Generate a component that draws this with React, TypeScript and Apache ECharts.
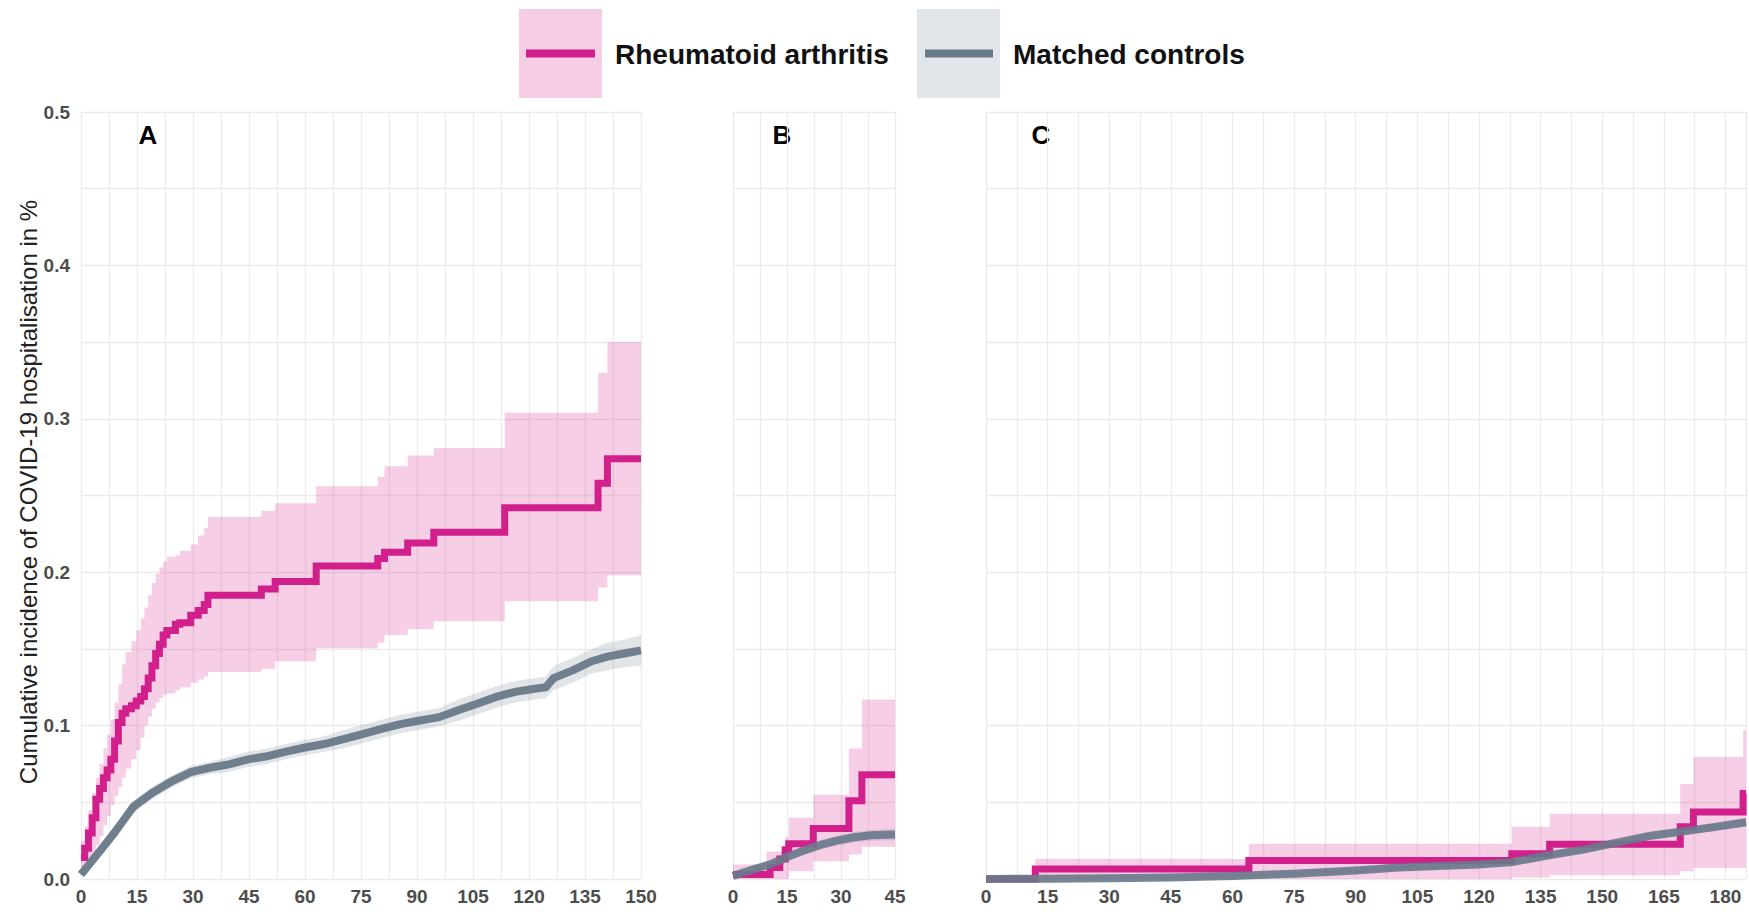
import React, { useEffect, useRef } from "react";
import * as echarts from "echarts";

// ---------- Data ----------
// Panel A – Rheumatoid arthritis (step estimates with CI)
const raA_t = [0, 1, 2, 3, 4, 5, 6, 7, 8, 9, 10, 11, 12, 13.5, 14.8, 16, 17, 18, 19, 20, 21, 22, 23, 25.3, 26.5, 29.4, 31.4, 33, 34, 48.3, 52, 63, 79.5, 81.3, 87.5, 94.5, 113.5, 138.5, 141, 150];
const raA_est = [0.014, 0.02, 0.03, 0.04, 0.052, 0.059, 0.066, 0.071, 0.078, 0.09, 0.102, 0.108, 0.111, 0.113, 0.116, 0.119, 0.124, 0.131, 0.139, 0.147, 0.153, 0.159, 0.162, 0.166, 0.167, 0.172, 0.175, 0.179, 0.185, 0.189, 0.194, 0.204, 0.209, 0.213, 0.219, 0.226, 0.242, 0.258, 0.274, 0.274];
const raA_lo = [0.004, 0.007, 0.011, 0.016, 0.022, 0.028, 0.035, 0.041, 0.048, 0.054, 0.06, 0.066, 0.072, 0.078, 0.084, 0.092, 0.1, 0.106, 0.111, 0.115, 0.118, 0.12, 0.121, 0.123, 0.125, 0.128, 0.13, 0.132, 0.135, 0.137, 0.142, 0.1505, 0.154, 0.159, 0.163, 0.168, 0.181, 0.19, 0.198, 0.198];
const raA_hi = [0.025, 0.034, 0.045, 0.056, 0.066, 0.075, 0.085, 0.094, 0.104, 0.115, 0.127, 0.14, 0.148, 0.155, 0.162, 0.17, 0.177, 0.185, 0.193, 0.199, 0.203, 0.207, 0.21, 0.211, 0.214, 0.218, 0.224, 0.229, 0.236, 0.24, 0.245, 0.256, 0.262, 0.269, 0.276, 0.281, 0.304, 0.33, 0.35, 0.35];

// Panel A – Matched controls
const ctA_t = [0, 2, 4, 6, 8.9, 11, 14, 19, 24.3, 29.4, 34.5, 39.6, 44.7, 49.8, 54.9, 60, 65.2, 70.3, 75.4, 80.5, 85.6, 90.8, 95.9, 101, 106.1, 111.2, 116.3, 121.5, 124.5, 126.6, 131.7, 136.8, 141, 145.5, 150];
const ctA_est = [0.003, 0.009, 0.015, 0.021, 0.03, 0.037, 0.047, 0.056, 0.0637, 0.0697, 0.0725, 0.0747, 0.078, 0.08, 0.083, 0.0857, 0.088, 0.0912, 0.0945, 0.0978, 0.101, 0.1033, 0.1055, 0.11, 0.1143, 0.1187, 0.122, 0.124, 0.125, 0.131, 0.136, 0.142, 0.145, 0.147, 0.149];
const ctA_lo = [0.002, 0.007, 0.013, 0.018, 0.027, 0.034, 0.043, 0.052, 0.0597, 0.0657, 0.0685, 0.0697, 0.073, 0.075, 0.078, 0.0807, 0.083, 0.0852, 0.0885, 0.0918, 0.095, 0.0973, 0.0995, 0.103, 0.1073, 0.1117, 0.115, 0.117, 0.118, 0.123, 0.128, 0.134, 0.136, 0.138, 0.139];
const ctA_hi = [0.004, 0.011, 0.017, 0.024, 0.033, 0.04, 0.051, 0.06, 0.0677, 0.0737, 0.0765, 0.0797, 0.083, 0.085, 0.088, 0.0907, 0.093, 0.0972, 0.1005, 0.1038, 0.107, 0.1093, 0.1115, 0.117, 0.1213, 0.1257, 0.129, 0.131, 0.132, 0.139, 0.144, 0.15, 0.154, 0.156, 0.159];

// Panel B
const raB_t = [0, 9.3, 10.3, 13, 14.5, 15.5, 22.3, 32.2, 35.8, 45];
const raB_est = [0.003, 0.003, 0.0075, 0.013, 0.019, 0.023, 0.033, 0.051, 0.068, 0.068];
const raB_lo = [0, 0, 0, 0, 0, 0.005, 0.0116, 0.016, 0.021, 0.021];
const raB_hi = [0.0095, 0.018, 0.018, 0.018, 0.027, 0.04, 0.055, 0.085, 0.117, 0.117];

const ctB_t = [0, 5.6, 10.3, 14.9, 19.6, 24.3, 28.9, 33.6, 38.3, 45];
const ctB_est = [0.002, 0.0063, 0.0095, 0.0142, 0.0185, 0.0222, 0.025, 0.0272, 0.0285, 0.029];
const ctB_lo = [0.001, 0.0045, 0.0075, 0.0118, 0.0158, 0.0192, 0.0218, 0.0238, 0.025, 0.0253];
const ctB_hi = [0.003, 0.0081, 0.0115, 0.0166, 0.0212, 0.0252, 0.0282, 0.0306, 0.032, 0.0327];

// Panel C
const raC_t = [0, 12, 64, 128, 137.2, 169, 172.2, 184.3, 185];
const raC_est = [0, 0.0065, 0.012, 0.0165, 0.0226, 0.034, 0.0437, 0.0557, 0.0557];
const raC_lo = [0, 0, 0, 0.001, 0.0025, 0.005, 0.0072, 0.0072, 0.0072];
const raC_hi = [0, 0.013, 0.023, 0.034, 0.0425, 0.062, 0.0795, 0.097, 0.097];

const ctC_t = [0, 15, 30, 45, 60, 75, 90, 100.5, 108.6, 120, 128.1, 137, 145.1, 153.3, 161.4, 169.5, 177.6, 185];
const ctC_est = [0, 0.0002, 0.0005, 0.001, 0.002, 0.0035, 0.0055, 0.0075, 0.0083, 0.0094, 0.011, 0.0155, 0.019, 0.0235, 0.028, 0.031, 0.034, 0.037];
const ctC_lo = [0, 0.0001, 0.0003, 0.0006, 0.0014, 0.0027, 0.0045, 0.0063, 0.0071, 0.0081, 0.0096, 0.0139, 0.0172, 0.0215, 0.0258, 0.0286, 0.0314, 0.0342];
const ctC_hi = [0, 0.0003, 0.0007, 0.0014, 0.0026, 0.0043, 0.0065, 0.0087, 0.0095, 0.0107, 0.0124, 0.0171, 0.0208, 0.0255, 0.0302, 0.0334, 0.0366, 0.0398];

const xMax = [150, 45, 185];
const panelLetters = ["A", "B", "C"];
const legendLabels = ["Rheumatoid arthritis", "Matched controls"];
const yTitle = "Cumulative incidence of COVID-19 hospitalisation in %";

// ---------- Styles ----------
const PINK = "#D11F8B";
const PINK_BAND = "rgba(214,32,140,0.22)";
const GREY = "#687989";
const GREY_BAND = "rgba(108,125,140,0.2)";
const FONT = "'Liberation Sans', Arial, Helvetica, sans-serif";

function zip(t: number[], v: number[]) {
  return t.map((x, i) => [x, v[i]]);
}

function bandSeries(idx: number, t: number[], lo: number[], hi: number[], color: string, step: boolean, z: number) {
  return {
    type: "custom",
    xAxisIndex: idx,
    yAxisIndex: idx,
    silent: true,
    clip: false,
    z,
    data: [[t[0], lo[0]]],
    renderItem: (_p: any, api: any) => {
      const pts: number[][] = [];
      for (let i = 0; i < t.length; i++) {
        if (step && i > 0) pts.push(api.coord([t[i], hi[i - 1]]));
        pts.push(api.coord([t[i], hi[i]]));
      }
      for (let i = t.length - 1; i >= 0; i--) {
        pts.push(api.coord([t[i], lo[i]]));
        if (step && i > 0) pts.push(api.coord([t[i], lo[i - 1]]));
      }
      return { type: "polygon", shape: { points: pts }, style: { fill: color } };
    },
  };
}

function lineSeries(idx: number, name: string, t: number[], v: number[], color: string, width: number, step: boolean, z: number, opacity: number) {
  return {
    type: "line",
    name,
    xAxisIndex: idx,
    yAxisIndex: idx,
    data: zip(t, v),
    step: step ? "end" : false,
    showSymbol: false,
    symbol: "none",
    clip: false,
    silent: true,
    z,
    lineStyle: { color, width, opacity, join: "miter" },
  };
}

export default function App() {
  const ref = useRef<HTMLDivElement>(null);

  useEffect(() => {
    if (!ref.current) return;
    const chart = echarts.init(ref.current, undefined, { renderer: "svg" });

    const grids = [
      { left: 81, top: 112, width: 560, height: 767 },
      { left: 733, top: 112, width: 162, height: 767 },
      { left: 986, top: 112, width: 763, height: 767 },
    ];

    const xAxes = grids.map((_, i) => ({
      type: "value",
      gridIndex: i,
      min: 0,
      max: xMax[i],
      interval: 7.5,
      axisLine: { show: false },
      axisTick: { show: false },
      axisLabel: {
        color: "#4d4d4d",
        fontSize: 19,
        fontWeight: "bold",
        fontFamily: FONT,
        margin: 8,
        showMinLabel: true,
        showMaxLabel: true,
        formatter: (v: number) => (Math.abs(v % 15) < 1e-6 ? String(v) : ""),
      },
      splitLine: { show: true, lineStyle: { color: "#ebebeb", width: 1.3 } },
    }));

    const yAxes = grids.map((_, i) => ({
      type: "value",
      gridIndex: i,
      min: 0,
      max: 0.5,
      interval: 0.05,
      axisLine: { show: false },
      axisTick: { show: false },
      axisLabel: {
        show: i === 0,
        color: "#4d4d4d",
        fontSize: 19,
        fontWeight: "bold",
        fontFamily: FONT,
        margin: 11,
        formatter: (v: number) => {
          const k = v * 10;
          return Math.abs(k - Math.round(k)) < 1e-6 ? v.toFixed(1) : "";
        },
      },
      splitLine: { show: true, lineStyle: { color: "#ebebeb", width: 1.3 } },
    }));

    const series: any[] = [
      bandSeries(0, raA_t, raA_lo, raA_hi, PINK_BAND, true, 1),
      bandSeries(0, ctA_t, ctA_lo, ctA_hi, GREY_BAND, false, 2),
      lineSeries(0, legendLabels[0], raA_t, raA_est, PINK, 7, true, 3, 1),
      lineSeries(0, legendLabels[1], ctA_t, ctA_est, GREY, 8, false, 4, 0.95),

      bandSeries(1, raB_t, raB_lo, raB_hi, PINK_BAND, true, 1),
      bandSeries(1, ctB_t, ctB_lo, ctB_hi, GREY_BAND, false, 2),
      lineSeries(1, legendLabels[0], raB_t, raB_est, PINK, 7, true, 3, 1),
      lineSeries(1, legendLabels[1], ctB_t, ctB_est, GREY, 8, false, 4, 0.9),

      bandSeries(2, raC_t, raC_lo, raC_hi, PINK_BAND, true, 1),
      bandSeries(2, ctC_t, ctC_lo, ctC_hi, GREY_BAND, false, 2),
      lineSeries(2, legendLabels[0], raC_t, raC_est, PINK, 7, true, 3, 1),
      lineSeries(2, legendLabels[1], ctC_t, ctC_est, GREY, 8, false, 4, 0.9),
    ];

    const letterPos = [148, 782, 1041];
    const graphic: any[] = [
      // legend
      { type: "rect", shape: { x: 519, y: 9, width: 83, height: 89 }, style: { fill: "#f5cde4" } },
      { type: "line", shape: { x1: 526, y1: 53.5, x2: 595, y2: 53.5 }, style: { stroke: PINK, lineWidth: 8 } },
      {
        type: "text",
        style: { x: 615, y: 54, text: legendLabels[0], fill: "#111", font: `bold 28px ${FONT}`, textVerticalAlign: "middle" },
      },
      { type: "rect", shape: { x: 917, y: 9, width: 83, height: 89 }, style: { fill: "#e2e6ea" } },
      { type: "line", shape: { x1: 925, y1: 53.5, x2: 993, y2: 53.5 }, style: { stroke: GREY, lineWidth: 8 } },
      {
        type: "text",
        style: { x: 1013, y: 54, text: legendLabels[1], fill: "#111", font: `bold 28px ${FONT}`, textVerticalAlign: "middle" },
      },
      // y title
      {
        type: "text",
        x: 28,
        y: 492,
        rotation: Math.PI / 2,
        style: { x: 0, y: 0, text: yTitle, fill: "#222", font: `24px ${FONT}`, textAlign: "center", textVerticalAlign: "middle" },
      },
      ...panelLetters.map((l, i) => ({
        type: "text",
        style: { x: letterPos[i], y: 135, text: l, fill: "#000", font: `bold 26px ${FONT}`, textAlign: "center", textVerticalAlign: "middle" },
      })),
    ];

    chart.setOption({
      animation: false,
      backgroundColor: "#ffffff",
      textStyle: { fontFamily: FONT },
      grid: grids,
      xAxis: xAxes,
      yAxis: yAxes,
      series,
      graphic,
    });

    return () => chart.dispose();
  }, []);

  return <div ref={ref} style={{ position: "fixed", left: 0, top: 0, width: 1749, height: 912 }} />;
}
